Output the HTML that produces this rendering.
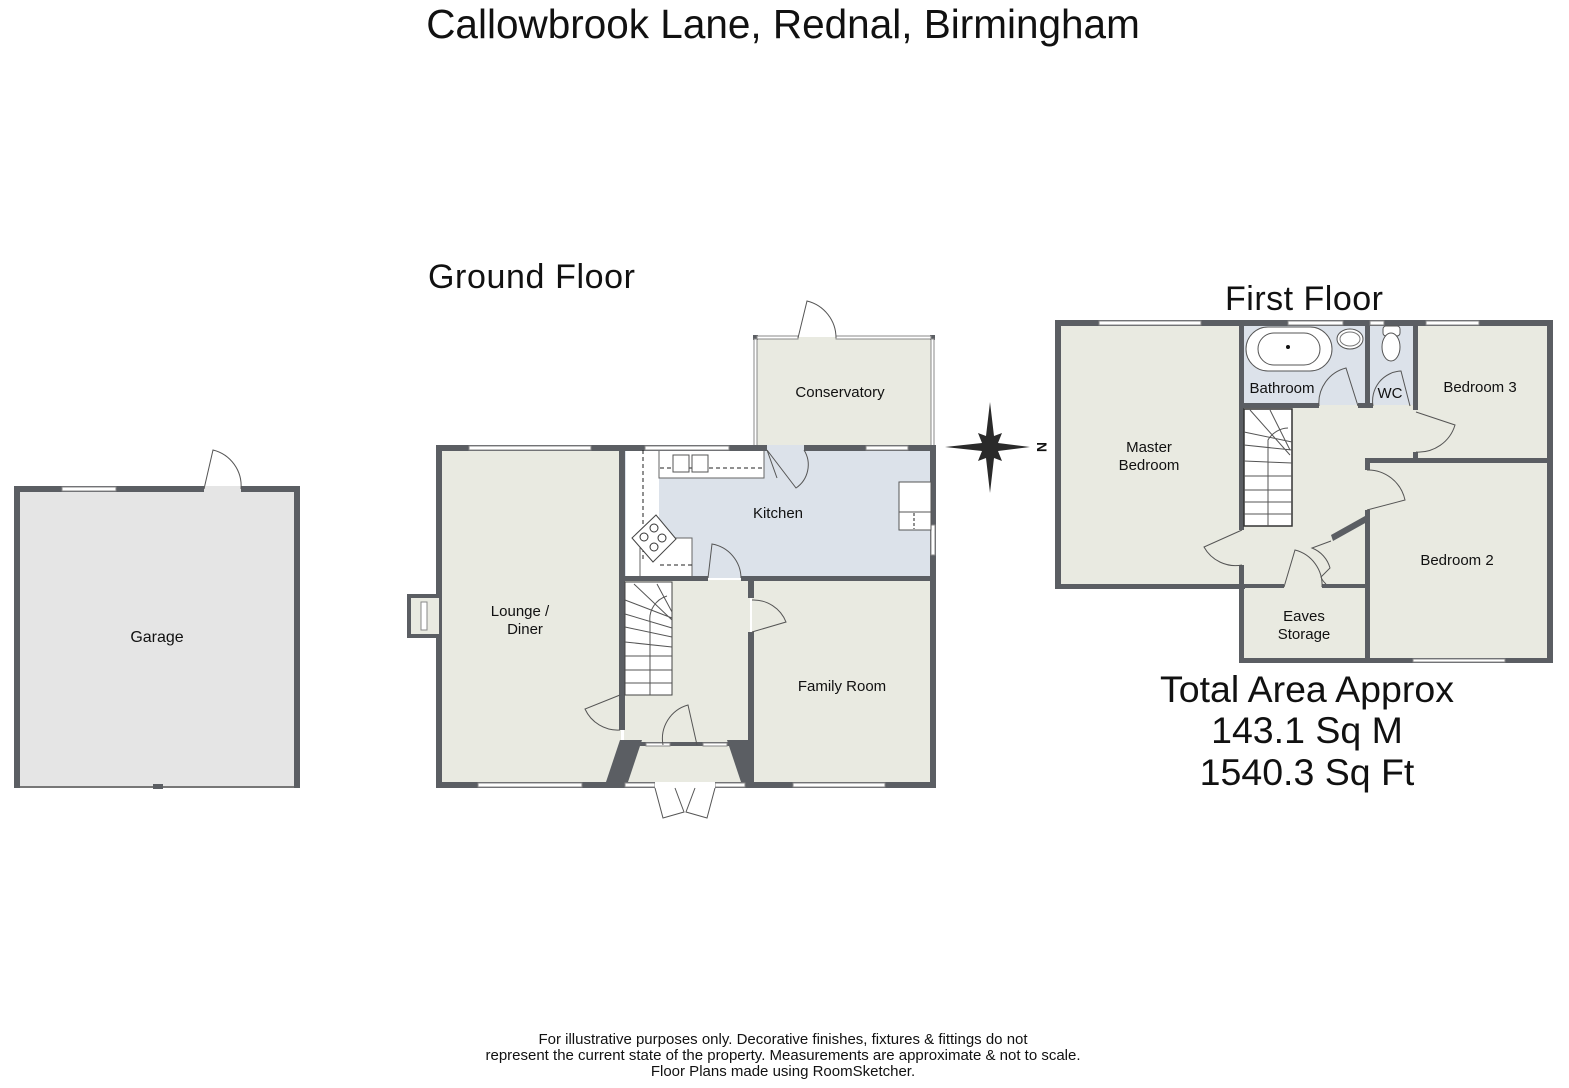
<!DOCTYPE html>
<html><head><meta charset="utf-8"><style>
html,body{margin:0;padding:0;background:#fff;}
svg{display:block;}
text{font-family:"Liberation Sans",Arial,sans-serif;fill:#111;}
</style></head><body>
<svg width="1569" height="1088" viewBox="0 0 1569 1088" xmlns="http://www.w3.org/2000/svg">
<defs>
<style>.w{fill:#5b5e63}.r{fill:#e9eae1}.k{fill:#dce2ea}.l{fill:none;stroke:#555;stroke-width:1}.win{fill:#fff;stroke:#888;stroke-width:1}</style>
</defs>
<text x="783" y="38" font-size="40.5" text-anchor="middle">Callowbrook Lane, Rednal, Birmingham</text>

<!-- GARAGE -->
<rect x="17" y="489" width="280" height="298" fill="#e5e5e5"/>
<rect class="w" x="14" y="486" width="6" height="302"/>
<rect class="w" x="294" y="486" width="6" height="302"/>
<rect class="w" x="14" y="486" width="286" height="6"/>
<rect class="win" x="62" y="487" width="54" height="4"/>
<rect x="204" y="486" width="37" height="6" fill="#e5e5e5"/>
<path class="l" d="M204 489 L213 450 A37 37 0 0 1 241 489"/>
<line x1="20" y1="787" x2="294" y2="787" stroke="#777" stroke-width="2"/>
<rect class="w" x="153" y="784" width="10" height="5"/>
<text x="157" y="642" font-size="16" text-anchor="middle">Garage</text>

<!-- GROUND FLOOR -->
<text x="428" y="288" font-size="34" textLength="207">Ground Floor</text>
<!-- conservatory -->
<rect class="r" x="755" y="337" width="178" height="110"/>
<rect class="w" x="753" y="335" width="5" height="5"/><rect class="w" x="930" y="335" width="5" height="5"/>
<rect class="win" x="754" y="339" width="3" height="107"/><rect class="win" x="931" y="339" width="3" height="107"/>
<rect class="win" x="757" y="336" width="41" height="3"/><rect class="win" x="836" y="336" width="95" height="3"/>
<path class="l" d="M798 338 L807 301 A38 38 0 0 1 836 338"/>
<text x="840" y="397" font-size="15" text-anchor="middle">Conservatory</text>
<!-- rooms fill -->
<rect class="r" x="439" y="448" width="182" height="337"/>
<rect class="k" x="625" y="448" width="308" height="130"/>
<rect fill="#fff" x="626" y="448" width="33" height="130"/>
<rect fill="#fff" x="659" y="448" width="105" height="30" stroke="#666" stroke-width="1"/>
<rect fill="#fff" x="640" y="538" width="52" height="40" stroke="#666" stroke-width="1"/>
<rect class="r" x="624" y="580" width="126" height="205"/>
<rect class="r" x="752" y="580" width="182" height="205"/>
<!-- walls -->
<rect class="w" x="436" y="445" width="500" height="6"/>
<rect class="w" x="436" y="445" width="6" height="343"/>
<rect class="w" x="930" y="445" width="6" height="343"/>
<rect class="w" x="436" y="782" width="500" height="6"/>
<rect class="w" x="619" y="445" width="6" height="285"/>
<rect class="w" x="619" y="576" width="89" height="5"/>
<rect class="w" x="741" y="576" width="195" height="5"/>
<rect class="w" x="748" y="576" width="6" height="22"/>
<rect class="w" x="748" y="632" width="6" height="156"/>
<polygon class="w" points="620,740 642,740 628,782 606,782"/>
<polygon class="w" points="727,740 752,740 752,782 741,782"/>
<rect class="w" x="624" y="742" width="128" height="4"/>
<!-- chimney -->
<rect class="w" x="407" y="594" width="32" height="44"/>
<rect fill="#e9eae1" x="411" y="598" width="28" height="36"/>
<rect class="win" x="421" y="602" width="6" height="28"/>
<!-- windows -->
<rect class="win" x="469" y="446" width="122" height="4"/>
<rect class="win" x="645" y="446" width="84" height="4"/>
<rect class="win" x="866" y="446" width="42" height="4"/>
<rect x="767" y="445" width="37" height="6" class="k"/>
<rect class="win" x="478" y="783" width="104" height="4"/>
<rect class="win" x="793" y="783" width="92" height="4"/>
<rect class="win" x="931" y="525" width="4" height="30"/>
<rect class="win" x="646" y="743" width="24" height="3"/><rect class="win" x="703" y="743" width="24" height="3"/>
<rect class="win" x="625" y="783" width="30" height="4"/><rect class="win" x="715" y="783" width="30" height="4"/>
<rect x="655" y="782" width="60" height="6" fill="#fff"/>
<!-- doors -->
<path class="l" d="M767 450 L777 478 M804 450 A28 28 0 0 1 796 488 L767 450"/>
<path class="l" d="M708 578 L712 544 A35 35 0 0 1 741 578"/>
<path class="l" d="M752 600 A35 35 0 0 1 786 622 L752 632"/>
<path class="l" d="M620 695 L585 709 A36 36 0 0 0 620 730"/>
<path class="l" d="M663 745 A35 35 0 0 1 688 705 L697 745"/>
<path class="l" d="M655 788 L663 818 L684 812 L675 788 M715 788 L707 818 L686 812 L695 788"/>
<!-- stairs -->
<rect x="625" y="582" width="47" height="113" fill="#fff" stroke="#444" stroke-width="1"/>
<path class="l" d="M625 600 L672 618 M625 614 L672 628 M625 627 L672 637 M625 642 L672 647 M625 656 L672 656 M625 670 L672 670 M625 683 L672 683 M650 695 L650 622 A24 24 0 0 1 667 596 M634 584 L672 620 M657 584 L672 612"/>
<!-- kitchen fixtures -->
<line x1="643" y1="450" x2="643" y2="560" stroke="#222" stroke-dasharray="4,3"/>
<line x1="660" y1="468" x2="764" y2="468" stroke="#222" stroke-dasharray="4,3"/>
<rect x="673" y="455" width="16" height="17" fill="#fff" stroke="#555"/><rect x="692" y="455" width="16" height="17" fill="#fff" stroke="#555"/>
<line x1="660" y1="565" x2="692" y2="565" stroke="#222" stroke-dasharray="4,3"/>
<polygon points="632,538 656,515 676,539 653,562" fill="#fff" stroke="#444"/>
<circle cx="654" cy="528" r="4" fill="none" stroke="#333"/><circle cx="644" cy="537" r="4" fill="none" stroke="#333"/><circle cx="662" cy="538" r="4" fill="none" stroke="#333"/><circle cx="654" cy="547" r="4" fill="none" stroke="#333"/>
<rect x="899" y="482" width="32" height="48" fill="#fff" stroke="#555"/>
<line x1="899" y1="512" x2="931" y2="512" stroke="#555"/><line x1="914" y1="513" x2="914" y2="529" stroke="#222" stroke-dasharray="3,2"/>
<text x="778" y="518" font-size="15" text-anchor="middle">Kitchen</text>
<text x="520" y="616" font-size="15" text-anchor="middle">Lounge /</text>
<text x="525" y="634" font-size="15" text-anchor="middle">Diner</text>
<text x="842" y="691" font-size="15" text-anchor="middle">Family Room</text>

<!-- COMPASS -->
<polygon fill="#2a2a2a" points="990,402 994,436 1002,433 998,443 1030,447 998,451 1002,461 994,458 990,493 986,458 978,461 982,451 945,447 982,443 978,433 986,436"/>
<text x="1042" y="447" font-size="14" font-weight="bold" text-anchor="middle" transform="rotate(90 1042 447)" dy="5">N</text>

<!-- FIRST FLOOR -->
<text x="1225" y="310" font-size="34" textLength="158">First Floor</text>
<rect class="r" x="1058" y="323" width="492" height="337"/>
<rect fill="#fff" x="1058" y="589" width="183" height="75"/>
<rect class="k" x="1243" y="324" width="123" height="81"/>
<rect class="k" x="1369" y="324" width="46" height="81"/>
<!-- walls -->
<rect class="w" x="1055" y="320" width="498" height="6"/>
<rect class="w" x="1055" y="320" width="6" height="269"/>
<rect class="w" x="1547" y="320" width="6" height="343"/>
<rect class="w" x="1055" y="584" width="190" height="5"/>
<rect class="w" x="1239" y="320" width="5" height="210"/>
<rect class="w" x="1239" y="565" width="5" height="98"/>
<rect class="w" x="1239" y="658" width="314" height="5"/>
<rect class="w" x="1239" y="403" width="80" height="5"/>
<rect class="w" x="1358" y="403" width="15" height="5"/>
<rect class="w" x="1365" y="320" width="5" height="88"/>
<rect class="w" x="1413" y="320" width="5" height="90"/>
<rect class="w" x="1413" y="452" width="5" height="10"/>
<rect class="w" x="1365" y="458" width="188" height="5"/>
<rect class="w" x="1365" y="458" width="5" height="12"/>
<rect class="w" x="1365" y="510" width="5" height="153"/>
<rect class="w" x="1244" y="584" width="40" height="4"/><rect class="w" x="1322" y="584" width="47" height="4"/>
<polygon class="w" points="1331,535 1365,516 1367,522 1333,541"/>
<!-- windows -->
<rect class="win" x="1099" y="321" width="102" height="4"/>
<rect class="win" x="1288" y="321" width="55" height="4"/>
<rect class="win" x="1370" y="321" width="14" height="4"/>
<rect class="win" x="1426" y="321" width="53" height="4"/>
<rect class="win" x="1413" y="659" width="92" height="3"/>
<!-- fixtures -->
<rect x="1246" y="327" width="86" height="44" rx="22" fill="#fff" stroke="#555"/>
<rect x="1258" y="333" width="62" height="32" rx="16" fill="#fff" stroke="#555"/>
<circle cx="1288" cy="347" r="2" fill="#111"/>
<ellipse cx="1350" cy="339" rx="13" ry="10" fill="#fff" stroke="#555"/>
<ellipse cx="1350" cy="339" rx="10" ry="7" fill="none" stroke="#777"/>
<rect x="1383" y="326" width="17" height="10" rx="3" fill="#fff" stroke="#555"/>
<ellipse cx="1391" cy="347" rx="9" ry="14" fill="#fff" stroke="#555"/>
<!-- doors -->
<path class="l" d="M1319 406 A36 36 0 0 1 1346 368 L1358 406"/>
<path class="l" d="M1373 406 A30 30 0 0 1 1401 371 L1410 406"/>
<path class="l" d="M1416 412 L1455 425 A38 38 0 0 1 1416 452"/>
<path class="l" d="M1367 470 A38 38 0 0 1 1405 500 L1367 510"/>
<path class="l" d="M1242 530 L1204 547 A36 36 0 0 0 1242 565"/>
<path class="l" d="M1284 587 L1295 550 A36 36 0 0 1 1322 587"/>
<path class="l" d="M1331 541 L1312 548 A30 30 0 0 1 1330 568 L1321 577 A18 18 0 0 0 1326 584"/>
<!-- stairs -->
<rect x="1244" y="409" width="48" height="117" fill="#fff" stroke="#333" stroke-width="1.5"/>
<path class="l" d="M1244 432 L1292 442 M1244 445 L1292 450 M1244 461 L1292 463 M1244 476 L1292 476 M1244 490 L1292 490 M1244 502 L1292 502 M1244 514 L1292 514 M1268 526 L1268 440 A24 24 0 0 1 1288 428 M1250 410 L1290 455 M1270 410 L1290 450"/>
<text x="1149" y="452" font-size="15" text-anchor="middle">Master</text>
<text x="1149" y="470" font-size="15" text-anchor="middle">Bedroom</text>
<text x="1282" y="393" font-size="15" text-anchor="middle">Bathroom</text>
<text x="1390" y="398" font-size="15" text-anchor="middle">WC</text>
<text x="1480" y="392" font-size="15" text-anchor="middle">Bedroom 3</text>
<text x="1457" y="565" font-size="15" text-anchor="middle">Bedroom 2</text>
<text x="1304" y="621" font-size="15" text-anchor="middle">Eaves</text>
<text x="1304" y="639" font-size="15" text-anchor="middle">Storage</text>

<text x="1307" y="702" font-size="37.5" text-anchor="middle">Total Area Approx</text>
<text x="1307" y="743" font-size="37.5" text-anchor="middle">143.1 Sq M</text>
<text x="1307" y="785" font-size="37.5" text-anchor="middle">1540.3 Sq Ft</text>

<text x="783" y="1044" font-size="15" text-anchor="middle">For illustrative purposes only. Decorative finishes, fixtures &amp; fittings do not</text>
<text x="783" y="1060" font-size="15" text-anchor="middle">represent the current state of the property. Measurements are approximate &amp; not to scale.</text>
<text x="783" y="1076" font-size="15" text-anchor="middle">Floor Plans made using RoomSketcher.</text>
</svg>
</body></html>
